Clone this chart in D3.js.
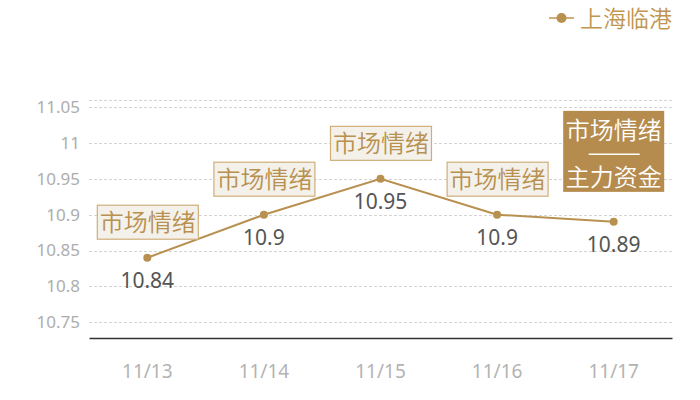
<!DOCTYPE html>
<html>
<head>
<meta charset="utf-8">
<script src="https://cdn.jsdelivr.net/npm/d3@7"></script>
<style>
  body { margin: 0; background: #fff; }
  text { font-family: "Noto Sans", "Noto Sans CJK SC", sans-serif; }
  .cjk { font-family: "Noto Sans CJK SC", sans-serif; font-weight: 350; }
</style>
</head>
<body>
<svg width="700" height="400"></svg>
<script>
const dates = ["11/13", "11/14", "11/15", "11/16", "11/17"];
const prices = [10.84, 10.9, 10.95, 10.9, 10.89];
const yTicks = [10.75, 10.8, 10.85, 10.9, 10.95, 11, 11.05];
// which tag sits above each point: 0 = 市场情绪, 1 = 市场情绪 + 主力资金
const tags = [0, 0, 0, 0, 1];
const seriesName = "上海临港";

const svg = d3.select("svg");
const gold = "#b8904f";

const x = d3.scaleBand().domain(dates).range([89, 672]);
const y = d3.scaleLinear().domain([10.728, 11.06]).range([338, 100]);
const cx = d => x(d) + x.bandwidth() / 2;

// grid lines
svg.append("g")
    .selectAll("line")
    .data(yTicks.concat([11.06]))
    .enter()
    .append("line")
    .attr("x1", 89)
    .attr("x2", 672)
    .attr("y1", d => Math.round(y(d)) + 0.5)
    .attr("y2", d => Math.round(y(d)) + 0.5)
    .attr("stroke", "#d4d4d4")
    .attr("stroke-dasharray", "3,2");

// y axis labels
const yAxis = svg.append("g")
    .attr("transform", "translate(80,0)")
    .call(d3.axisLeft(y).tickValues(yTicks).tickSize(0).tickPadding(0).tickFormat(d3.format("")));
yAxis.select(".domain").remove();
yAxis.selectAll("text")
    .attr("fill", "#adadad")
    .style("font-size", "17px");

// x axis
const xAxis = svg.append("g")
    .attr("transform", "translate(0,338)")
    .call(d3.axisBottom(x).tickSize(0).tickPadding(27));
xAxis.select(".domain").attr("stroke", "#333").attr("stroke-width", 1.5);
xAxis.selectAll("text")
    .attr("fill", "#b3b3b3")
    .style("font-size", "19px");

// line + points
const line = d3.line()
    .x((d, i) => cx(dates[i]))
    .y(d => y(d));

svg.append("path")
    .datum(prices)
    .attr("d", line)
    .attr("fill", "none")
    .attr("stroke", gold)
    .attr("stroke-width", 2);

svg.selectAll(".dot")
    .data(prices)
    .enter()
    .append("circle")
    .attr("class", "dot")
    .attr("cx", (d, i) => cx(dates[i]))
    .attr("cy", d => y(d))
    .attr("r", 4)
    .attr("fill", gold);

// value labels
svg.selectAll(".val")
    .data(prices)
    .enter()
    .append("text")
    .attr("class", "val")
    .attr("x", (d, i) => cx(dates[i]))
    .attr("y", d => y(d) + 30)
    .attr("text-anchor", "middle")
    .attr("fill", "#555")
    .style("font-size", "21px")
    .text(d => d);

// tag boxes
prices.forEach((p, i) => {
    const px = cx(dates[i]);
    const py = y(p);
    const g = svg.append("g");
    if (tags[i] === 0) {
        const w = 101, h = 34;
        const top = py - 19 - h;
        g.append("rect")
            .attr("x", px - w / 2 + 0.5)
            .attr("y", top + 0.5)
            .attr("width", w)
            .attr("height", h)
            .attr("fill", "#f4f0ea")
            .attr("stroke", "#cfae7a")
            .attr("stroke-width", 1.2);
        g.append("text")
            .attr("class", "cjk")
            .attr("x", px + 0.5)
            .attr("y", top + h / 2 + 9)
            .attr("text-anchor", "middle")
            .attr("fill", gold)
            .style("font-size", "24px")
            .text("市场情绪");
    } else {
        const w = 101, h = 81;
        const top = py - 111;
        g.append("rect")
            .attr("x", px - w / 2)
            .attr("y", top)
            .attr("width", w)
            .attr("height", h)
            .attr("fill", "#b58c4e");
        g.append("text")
            .attr("class", "cjk")
            .attr("x", px)
            .attr("y", top + 28)
            .attr("text-anchor", "middle")
            .attr("fill", "#fff")
            .style("font-size", "24px")
            .text("市场情绪");
        g.append("line")
            .attr("x1", px - 25)
            .attr("x2", px + 26)
            .attr("y1", top + 43.5)
            .attr("y2", top + 43.5)
            .attr("stroke", "#fff")
            .attr("stroke-width", 1.5);
        g.append("text")
            .attr("class", "cjk")
            .attr("x", px)
            .attr("y", top + 75)
            .attr("text-anchor", "middle")
            .attr("fill", "#fff")
            .style("font-size", "24px")
            .text("主力资金");
    }
});

// legend
const legend = svg.append("g").attr("transform", "translate(549,18)");
legend.append("line")
    .attr("x1", 0).attr("x2", 25)
    .attr("stroke", "#cfae7a").attr("stroke-width", 2);
legend.append("circle")
    .attr("cx", 12.5).attr("r", 5)
    .attr("fill", gold);
legend.append("text")
    .attr("class", "cjk")
    .attr("x", 31)
    .attr("y", 8.5)
    .attr("fill", "#c0964f")
    .style("font-size", "23px")
    .text(seriesName);
</script>
</body>
</html>
